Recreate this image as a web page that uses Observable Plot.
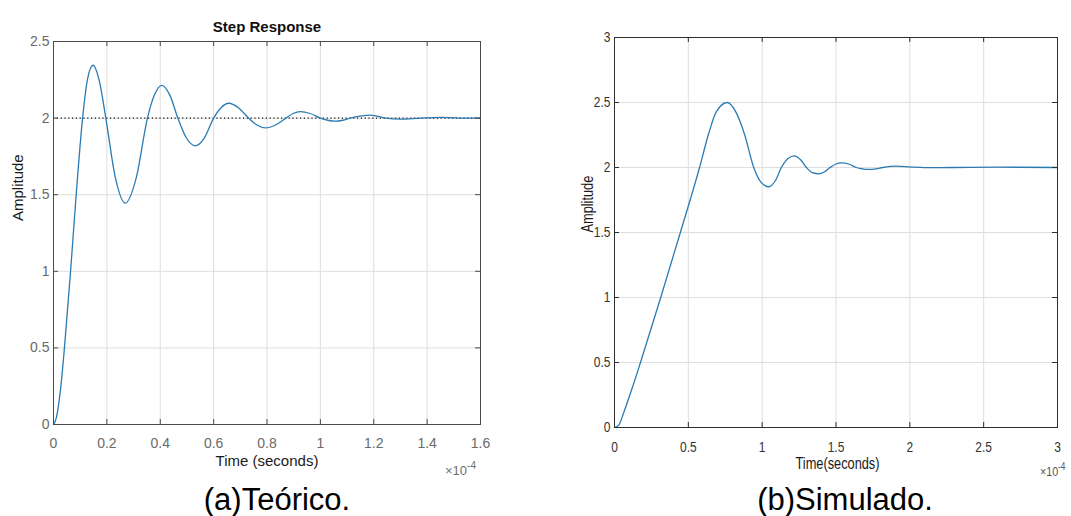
<!DOCTYPE html>
<html>
<head>
<meta charset="utf-8">
<script src="https://cdn.jsdelivr.net/npm/d3@7"></script>
<script src="https://cdn.jsdelivr.net/npm/@observablehq/plot@0.6"></script>
<style>
  html, body { margin: 0; padding: 0; background: #fff; }
  body { width: 1071px; height: 516px; position: relative; overflow: hidden; font-family: "Liberation Sans", Arial, sans-serif; }
  #chartA { position: absolute; left: 0; top: 0; }
  #chartB { position: absolute; left: 540px; top: 0; }
  .exp { position: absolute; font-size: 13px; line-height: 13px; color: #707070; white-space: nowrap; transform-origin: left top; }
  .exp span { position: relative; top: -6px; font-size: 10px; }
  .cap { position: absolute; top: 484px; font-size: 31px; line-height: 31px; color: #000; white-space: nowrap; transform: translateX(-50%); }
</style>
</head>
<body>
<div id="chartA"></div>
<div id="chartB"></div>
<div class="exp" id="expA" style="left:445px; top:464px;">×10<span>-4</span></div>
<div class="exp" id="expB" style="left:1040px; top:465px; transform: scaleX(0.82); color:#555;">×10<span>-4</span></div>
<div class="cap" id="capA" style="left:277px;"></div>
<div class="cap" id="capB" style="left:845px;"></div>
<script>
// ---------- (a) Teórico : theoretical step response (time in units of 1e-4 s) ----------
const titleA = "Step Response";
const captionA = "(a)Teórico.";
const xLabelA = "Time (seconds)";
const yLabelA = "Amplitude";
const timeA = [0, 0.01, 0.02, 0.03, 0.041, 0.064, 0.085, 0.109, 0.127, 0.148, 0.172, 0.196, 0.232, 0.269, 0.31, 0.352, 0.378, 0.406, 0.436, 0.466, 0.498, 0.531, 0.565, 0.6, 0.628, 0.656, 0.693, 0.731, 0.762, 0.794, 0.832, 0.871, 0.898, 0.925, 0.962, 1.0, 1.028, 1.056, 1.084, 1.112, 1.15, 1.188, 1.244, 1.3, 1.375, 1.45, 1.525, 1.6];
const ampA  = [0, 0.04, 0.14, 0.29, 0.5, 1.0, 1.5, 2.0, 2.25, 2.345, 2.24, 2.0, 1.61, 1.445, 1.61, 2.0, 2.15, 2.214, 2.15, 2.0, 1.87, 1.819, 1.87, 2.0, 2.068, 2.097, 2.068, 2.0, 1.955, 1.936, 1.955, 2.0, 2.03, 2.042, 2.03, 2.0, 1.986, 1.98, 1.986, 2.0, 2.013, 2.019, 2.0, 1.993, 2.0, 2.005, 2.0, 2.0];
const finalValueA = [2];
const xTicksA = [0, 0.2, 0.4, 0.6, 0.8, 1, 1.2, 1.4, 1.6];
const yTicksA = [0, 0.5, 1, 1.5, 2, 2.5];

// ---------- (b) Simulado : simulated step response ----------
const captionB = "(b)Simulado.";
const xLabelB = "Time(seconds)";
const yLabelB = "Amplitude";
const timeB = [0, 0.03, 0.064, 0.116, 0.176, 0.313, 0.446, 0.576, 0.635, 0.69, 0.765, 0.825, 0.882, 0.943, 0.99, 1.044, 1.09, 1.13, 1.175, 1.219, 1.26, 1.3, 1.34, 1.384, 1.42, 1.46, 1.5, 1.537, 1.59, 1.637, 1.68, 1.716, 1.77, 1.817, 1.907, 2.0, 2.1, 2.3, 2.6, 3.0];
const ampB  = [0, 0.02, 0.12, 0.29, 0.5, 1.0, 1.5, 2.0, 2.25, 2.43, 2.5, 2.42, 2.25, 2.0, 1.89, 1.852, 1.9, 2.0, 2.07, 2.09, 2.06, 2.0, 1.96, 1.951, 1.965, 2.0, 2.027, 2.035, 2.025, 2.0, 1.99, 1.986, 1.99, 2.0, 2.01, 2.005, 1.999, 2.0, 2.003, 2.0];
const xTicksB = [0, 0.5, 1, 1.5, 2, 2.5, 3];
const yTicksB = [0, 0.5, 1, 1.5, 2, 2.5, 3];

const lineColor = "#2b7bb3";
const fmt = d => String(d);

function stepChart(o) {
  const data = o.times.map((t, i) => ({t, a: o.amps[i]}));
  const fw = o.width - o.marginLeft - o.marginRight;
  const fh = o.height - o.marginTop - o.marginBottom;
  const tick = 5;
  const marks = [
    Plot.gridX(o.xTicks, {stroke: "#dedede", strokeOpacity: 1}),
    Plot.gridY(o.yTicks, {stroke: "#dedede", strokeOpacity: 1}),
  ];
  if (o.finalValue) marks.push(Plot.ruleY(o.finalValue, {stroke: "#111", strokeWidth: 1.1, strokeDasharray: "1.2,2.6"}));
  marks.push(
    Plot.line(data, {x: "t", y: "a", stroke: lineColor, strokeWidth: 1.3, curve: "monotone-x"}),
    Plot.frame({stroke: o.frameColor, strokeWidth: 1}),
    Plot.ruleX(o.xTicks, {x: d => d, insetTop: fh - tick, stroke: o.frameColor}),
    Plot.ruleX(o.xTicks, {x: d => d, insetBottom: fh - tick, stroke: o.frameColor}),
    Plot.ruleY(o.yTicks, {y: d => d, insetRight: fw - tick, stroke: o.frameColor}),
    Plot.ruleY(o.yTicks, {y: d => d, insetLeft: fw - tick, stroke: o.frameColor}),
    Plot.axisX({ticks: o.xTicks, tickFormat: fmt, tickSize: 0, tickPadding: o.xPad, label: null, fill: o.tickColor, fontSize: o.tickFont}),
    Plot.axisY({ticks: o.yTicks, tickFormat: fmt, tickSize: 0, tickPadding: o.yPad, label: null, fill: o.tickColor, fontSize: o.tickFont}),
    Plot.text([o.xLabel], {text: d => d, frameAnchor: "bottom", dy: o.xLabelDy, dx: o.xLabelDx || 0, fontSize: o.labelFont, fill: "#1a1a1a"}),
    Plot.text([o.yLabel], {text: d => d, frameAnchor: "left", rotate: -90, dx: o.yLabelDx, dy: o.yLabelDy, fontSize: o.labelFont, fill: "#1a1a1a"})
  );
  if (o.title) marks.push(Plot.text([o.title], {text: d => d, frameAnchor: "top", dy: -20.5, fontSize: 15, fontWeight: "bold", fill: "#111"}));
  const svg = Plot.plot({
    width: o.width, height: o.height,
    marginLeft: o.marginLeft, marginRight: o.marginRight, marginTop: o.marginTop, marginBottom: o.marginBottom,
    style: {background: "transparent", fontFamily: "'Liberation Sans', Arial, sans-serif", overflow: "visible"},
    x: {domain: o.xDomain, type: "linear"},
    y: {domain: o.yDomain, type: "linear"},
    marks
  });
  if (o.narrow) {
    // condensed lettering as in the simulated plot
    svg.querySelectorAll("text").forEach(t => {
      const tr = t.getAttribute("transform") || "";
      t.setAttribute("transform", tr + " scale(" + o.narrow + ",1)");
    });
  }
  return svg;
}

document.getElementById("chartA").append(stepChart({
  times: timeA, amps: ampA, xTicks: xTicksA, yTicks: yTicksA,
  xDomain: [0, 1.6], yDomain: [0, 2.5], finalValue: finalValueA,
  width: 520, height: 480, marginLeft: 53, marginRight: 40, marginTop: 41, marginBottom: 56,
  frameColor: "#4a4a4a", tickColor: "#6a6a6a", tickFont: 14, labelFont: 15,
  xPad: 14, yPad: 4, xLabel: xLabelA, yLabel: yLabelA, xLabelDy: 41, yLabelDx: -35, yLabelDy: -12,
  title: titleA
}));

document.getElementById("chartB").append(stepChart({
  times: timeB, amps: ampB, xTicks: xTicksB, yTicks: yTicksB,
  xDomain: [0, 3], yDomain: [0, 3], finalValue: null,
  width: 531, height: 480, marginLeft: 74, marginRight: 14, marginTop: 37, marginBottom: 53,
  frameColor: "#2e2e2e", tickColor: "#333", tickFont: 15, labelFont: 16, narrow: 0.8,
  xPad: 14, yPad: 4, xLabel: xLabelB, yLabel: yLabelB, xLabelDy: 41, xLabelDx: 1.5, yLabelDx: -27, yLabelDy: 0
}));

document.getElementById("capA").textContent = captionA;
document.getElementById("capB").textContent = captionB;
</script>
</body>
</html>
